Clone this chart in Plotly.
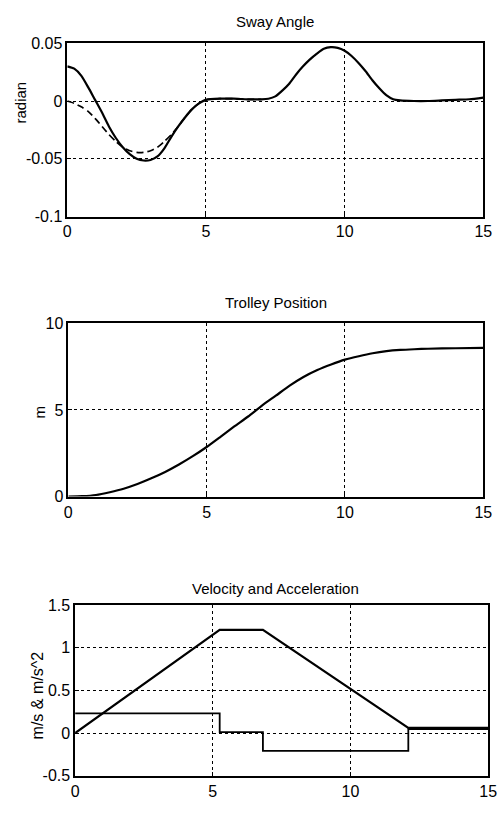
import plotly.graph_objects as go

# ---------------- data ----------------
sway_t = [0, 0.25, 0.5, 0.75, 1.0, 1.25, 1.5, 1.75, 2.0, 2.25, 2.5, 2.75, 3.0, 3.25,
          3.5, 3.75, 4.0, 4.25, 4.5, 4.75, 5.0, 5.5, 6.0, 6.5, 7.0, 7.25, 7.5, 7.75,
          8.0, 8.25, 8.5, 8.75, 9.0, 9.25, 9.5, 9.75, 10.0, 10.25, 10.5, 10.75, 11.0,
          11.25, 11.5, 11.75, 12.0, 12.5, 13.0, 13.5, 14.0, 14.5, 15.0]
sway_solid = [0.030, 0.028, 0.022, 0.012, 0.001, -0.010, -0.022, -0.032, -0.040, -0.046,
              -0.050, -0.0515, -0.051, -0.048, -0.041, -0.031, -0.022, -0.014, -0.007,
              -0.002, 0.001, 0.002, 0.002, 0.0015, 0.0015, 0.002, 0.004, 0.009, 0.015,
              0.023, 0.030, 0.036, 0.041, 0.0452, 0.0466, 0.0460, 0.0435, 0.039, 0.033,
              0.026, 0.018, 0.011, 0.005, 0.0015, 0.0005, 0.0, 0.0, 0.0005, 0.001, 0.0015,
              0.003]

dash_t = [0, 0.25, 0.5, 0.75, 1.0, 1.25, 1.5, 1.75, 2.0, 2.25, 2.5, 2.75, 3.0, 3.25,
          3.5, 3.75, 4.0, 4.25, 4.5, 4.75, 5.0, 5.5, 6.0, 6.5, 7.0]
sway_dashed = [0.0, -0.002, -0.005, -0.009, -0.015, -0.022, -0.029, -0.035, -0.040,
               -0.043, -0.0445, -0.0445, -0.043, -0.040, -0.035, -0.029, -0.022, -0.014,
               -0.007, -0.002, 0.001, 0.002, 0.002, 0.0015, 0.0015]

pos_t = [0, 0.5, 1.0, 1.5, 2.0, 2.5, 3.0, 3.5, 4.0, 4.5, 5.0, 5.5, 6.0, 6.5, 7.0, 7.5,
         8.0, 8.5, 9.0, 9.5, 10.0, 10.5, 11.0, 11.5, 12.0, 12.5, 13.0, 14.0, 15.0]
position = [0, 0.02, 0.09, 0.25, 0.45, 0.72, 1.05, 1.42, 1.85, 2.33, 2.86, 3.45, 4.05,
            4.62, 5.25, 5.82, 6.40, 6.90, 7.30, 7.62, 7.90, 8.10, 8.27, 8.39, 8.46, 8.50,
            8.53, 8.56, 8.58]

vel_t = [0, 5.25, 6.82, 12.1, 15.0]
velocity = [0.0, 1.21, 1.21, 0.06, 0.06]

acc_t = [0, 5.25, 6.82, 12.1, 15.0]
acceleration = [0.23, 0.01, -0.21, 0.045, 0.045]

x_ticks = [0, 5, 10, 15]
sway_ticks = [-0.1, -0.05, 0, 0.05]
sway_tick_labels = ["-0.1", "-0.05", "0", "0.05"]
pos_ticks = [0, 5, 10]
va_ticks = [-0.5, 0, 0.5, 1, 1.5]
va_tick_labels = ["-0.5", "0", "0.5", "1", "1.5"]

# ---------------- figure ----------------
W, H = 504, 813
FONT = "Liberation Sans, Arial, Helvetica, sans-serif"
line = dict(color="black", width=2.2)

fig = go.Figure()
fig.add_trace(go.Scatter(x=sway_t, y=sway_solid, mode="lines", line=dict(**line, shape="spline", smoothing=0.6),
                         xaxis="x", yaxis="y"))
fig.add_trace(go.Scatter(x=dash_t, y=sway_dashed, mode="lines",
                         line=dict(color="black", width=1.7, dash="7px,4px", shape="spline", smoothing=0.6),
                         xaxis="x", yaxis="y"))
fig.add_trace(go.Scatter(x=pos_t, y=position, mode="lines", line=dict(**line, shape="spline", smoothing=0.6),
                         xaxis="x2", yaxis="y2"))
fig.add_trace(go.Scatter(x=vel_t, y=velocity, mode="lines", line=line, xaxis="x3", yaxis="y3"))
fig.add_trace(go.Scatter(x=acc_t, y=acceleration, mode="lines", line=dict(color="black", width=1.8, shape="hv"),
                         xaxis="x3", yaxis="y3"))


def px_x(a, b):
    return [a / W, b / W]


def px_y(top, bottom):
    return [1 - bottom / H, 1 - top / H]


common = dict(showline=True, mirror=True, linecolor="black", linewidth=1.5,
              showgrid=True, gridcolor="black", gridwidth=1, griddash="dot",
              zeroline=False, ticks="inside", ticklen=4, tickcolor="black",
              tickfont=dict(family=FONT, size=16, color="black"))

fig.update_layout(
    width=W, height=H, autosize=False,
    margin=dict(l=0, r=0, t=0, b=0),
    paper_bgcolor="white", plot_bgcolor="white",
    showlegend=False,
    font=dict(family=FONT, color="black"),
    xaxis=dict(domain=px_x(65, 492), anchor="y", range=[0, 15], tickvals=x_ticks, **common),
    yaxis=dict(domain=px_y(36, 213), anchor="x", range=[-0.1, 0.05], tickvals=sway_ticks,
               ticktext=sway_tick_labels, **common),
    xaxis2=dict(domain=px_x(66, 492), anchor="y2", range=[0, 15], tickvals=x_ticks, **common),
    yaxis2=dict(domain=px_y(322, 499), anchor="x2", range=[0, 10], tickvals=pos_ticks, **common),
    xaxis3=dict(domain=px_x(73, 497), anchor="y3", range=[0, 15], tickvals=x_ticks, **common),
    yaxis3=dict(domain=px_y(610, 784), anchor="x3", range=[-0.5, 1.5], tickvals=va_ticks,
                ticktext=va_tick_labels, **common),
)

annots = [
    ("Sway Angle", 278, 14, 15, 0),
    ("Trolley Position", 279, 301, 15, 0),
    ("Velocity and Acceleration", 279, 593, 15, 0),
    ("radian", 17, 97, 15, -90),
    ("m", 36, 413, 15, -90),
    ("m/s & m/s^2", 34, 702, 16, -90),
]
for text, x, y, size, ang in annots:
    fig.add_annotation(text=text, x=x / W, y=1 - y / H, xref="paper", yref="paper",
                       xanchor="center", yanchor="middle", showarrow=False, textangle=ang,
                       font=dict(family=FONT, size=size, color="black"))

fig.write_html("out.html", config={"displayModeBar": False},
               post_script="document.body.style.margin='0';document.body.style.overflow='hidden';")
